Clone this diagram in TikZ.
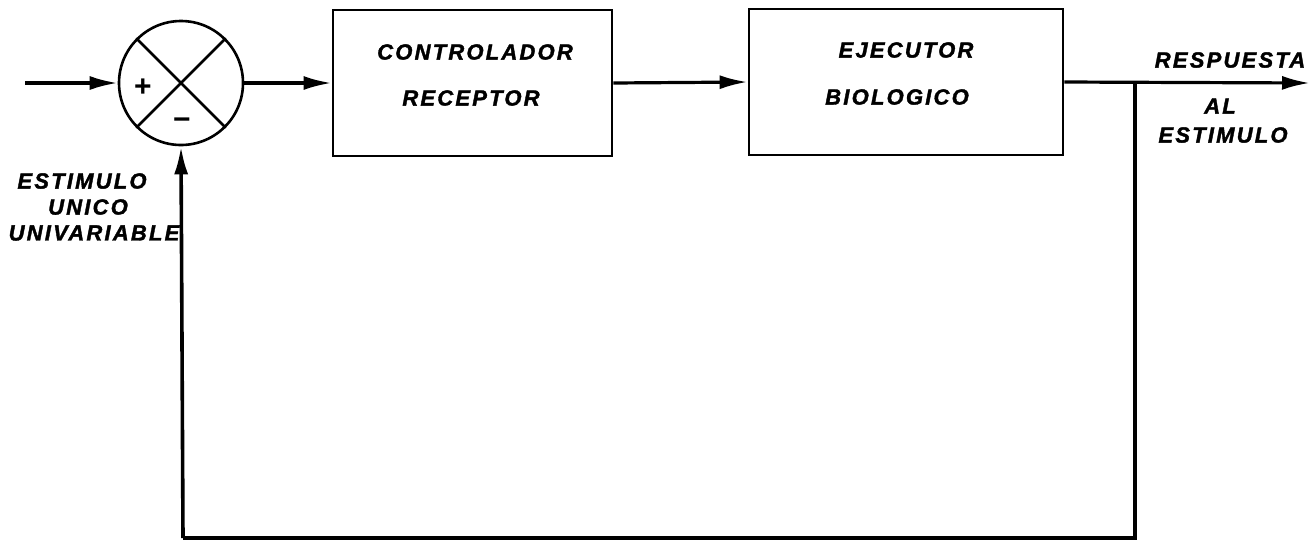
\documentclass[tikz,border=0pt]{standalone}
\usepackage{fontspec}
\setmainfont{Liberation Sans}
\newfontfamily\lblfont[LetterSpace=10, BoldItalicFeatures={FakeBold=1.6}]{Liberation Sans}
\usetikzlibrary{arrows.meta}
\tikzset{
  line/.style={line width=3.2pt, black},
  arr/.style={line, -{Latex[length=28pt,width=14pt]}},
  blockbox/.style={draw, line width=2.8pt, minimum width=#1, minimum height=146pt, inner sep=0pt},
  lbl/.style={font=\lblfont\bfseries\itshape\fontsize{22}{26}\selectfont, inner sep=0pt},
}
\begin{document}
\begin{tikzpicture}[x=1pt,y=-1pt]
\useasboundingbox (0,0) rectangle (1311,542);
% summing junction
\node[draw, circle, line width=2.6pt, minimum size=124pt, inner sep=0pt] (sum) at (181,83) {};
\draw[line width=2.6pt] (sum.north west) -- (sum.south east);
\draw[line width=2.6pt] (sum.north east) -- (sum.south west);
\node[font=\fontsize{30}{30}\selectfont\bfseries, inner sep=0pt] (plus) at (143,88) {+};
\node[font=\fontsize{30}{30}\selectfont\bfseries, inner sep=0pt] (minus) at (182,124) {\textminus};
% blocks
\node[blockbox=279pt] (b1) at (472.5,83) {};
\node[blockbox=314pt] (b2) at (906,82) {};
\node[lbl] (t1a) at (475,52) {CONTROLADOR};
\node[lbl] (t1b) at (471,98) {RECEPTOR};
\node[lbl] (t2a) at (906,50) {EJECUTOR};
\node[lbl] (t2b) at (897,97) {BIOLOGICO};
% connectors
\coordinate (in) at (25,83);
\draw[arr] (in) -- (sum.west);
\draw[arr] (sum.east) -- (b1.west);
\draw[arr] (b1.east) -- (b2.west);
\coordinate (out) at (1310,83);
\coordinate (tap) at (1135,83);
\draw[arr] (b2.east) -- (out);
\coordinate (br) at (1135,538);
\coordinate (bl) at (183,538);
\draw[line, line width=3.6pt] (tap) -- (br) -- (bl);
\draw[arr, line width=3.6pt] (bl) -- (sum.south);
% labels
\node[lbl] (r1) at (1230,60) {RESPUESTA};
\node[lbl] (r2) at (1220,106) {AL};
\node[lbl] (r3) at (1223,135) {ESTIMULO};
\node[lbl] (e1) at (82,181) {ESTIMULO};
\node[lbl] (e2) at (88,207) {UNICO};
\node[lbl] (e3) at (94,233) {UNIVARIABLE};
\end{tikzpicture}
\end{document}
